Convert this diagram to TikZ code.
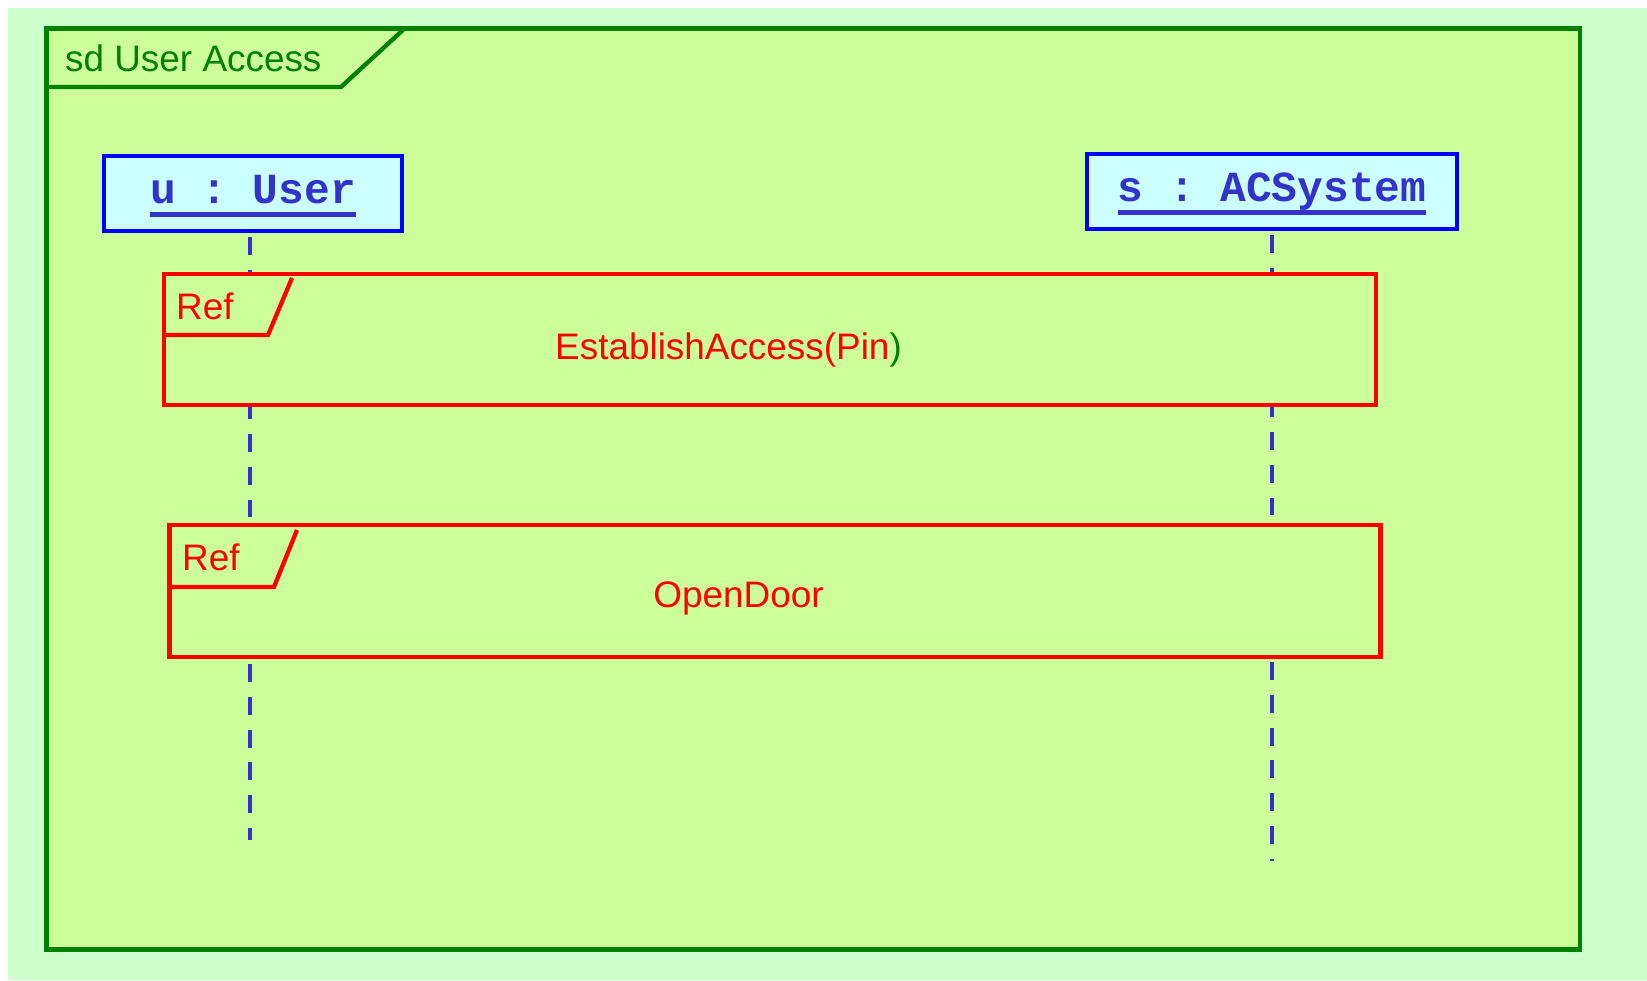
\documentclass[tikz,border=0pt]{standalone}
\usepackage{fontspec}
\setmainfont{Liberation Sans}
\setmonofont{Liberation Mono}
\definecolor{fondo}{HTML}{CCFFCC}
\definecolor{marco}{HTML}{CCFF99}
\definecolor{verde}{HTML}{008000}
\definecolor{celeste}{HTML}{CCFFFF}
\definecolor{azul}{HTML}{3333CC}
\newcommand{\ulname}[1]{\setbox0\hbox{#1}\rlap{\rule[-7.2pt]{\wd0}{2.4pt}}\box0}

\begin{document}
\begin{tikzpicture}[line width=2.45pt,
  objeto/.style={draw=blue,fill=celeste,text=azul,font=\fontsize{24.4}{29}\selectfont\ttfamily\bfseries,minimum height=1.5cm,text height=11.9pt,text depth=0pt,inner sep=0pt},
  vida/.style={azul,dash pattern=on 10.2pt off 8.5pt,shorten <=2pt},
  refmarco/.style={draw=red,fill=marco,inner sep=0pt},
  rotulo/.style={font=\fontsize{21}{25}\selectfont,inner sep=0pt}]
  \useasboundingbox (0,0) rectangle (32.94,19.6);
  \fill[fondo] (0.16,0) rectangle (32.94,19.44);
  % marco sd
  \draw[verde,fill=marco] (0.93,0.61) rectangle (31.6,19.03);
  \draw[verde] (0.93,17.86)--(6.82,17.86)--(8.06,19.0);
  \node[rotulo,verde,anchor=base west] (titulo) at (1.26,18.16) {sd User Access};
  % objetos + lineas de vida
  \node[objeto,minimum width=5.96cm] (u) at (5.06,15.73) {\ulname{u : User}};
  \node[objeto,minimum width=7.4cm] (s) at (25.44,15.77) {\ulname{s : ACSystem}};
  \coordinate (ufin) at (5.0,2.8);
  \coordinate (sfin) at (25.44,2.38);
  \draw[vida] (u.south) ++(-0.06,0) -- (ufin);
  \draw[vida] (s.south)--(sfin);
  % ref EstablishAccess
  \node[refmarco,minimum width=24.24cm,minimum height=2.63cm] (ea) at (15.4,12.81) {};
  \draw[red] (3.28,12.9)--(5.36,12.9)--(5.84,14.04);
  \node[rotulo,red,anchor=base west] (ref1) at (3.48,13.2) {Ref};
  \node[rotulo,red,anchor=base] (eatxt) at (14.57,12.4) {EstablishAccess(Pin\textcolor{verde}{)}};
  % ref OpenDoor
  \node[refmarco,minimum width=24.22cm,minimum height=2.64cm] (od) at (15.5,7.78) {};
  \draw[red] (3.39,7.86)--(5.48,7.86)--(5.94,9.0);
  \node[rotulo,red,anchor=base west] (ref2) at (3.6,8.18) {Ref};
  \node[rotulo,red,anchor=base] (odtxt) at (14.77,7.44) {OpenDoor};
\end{tikzpicture}
\end{document}
